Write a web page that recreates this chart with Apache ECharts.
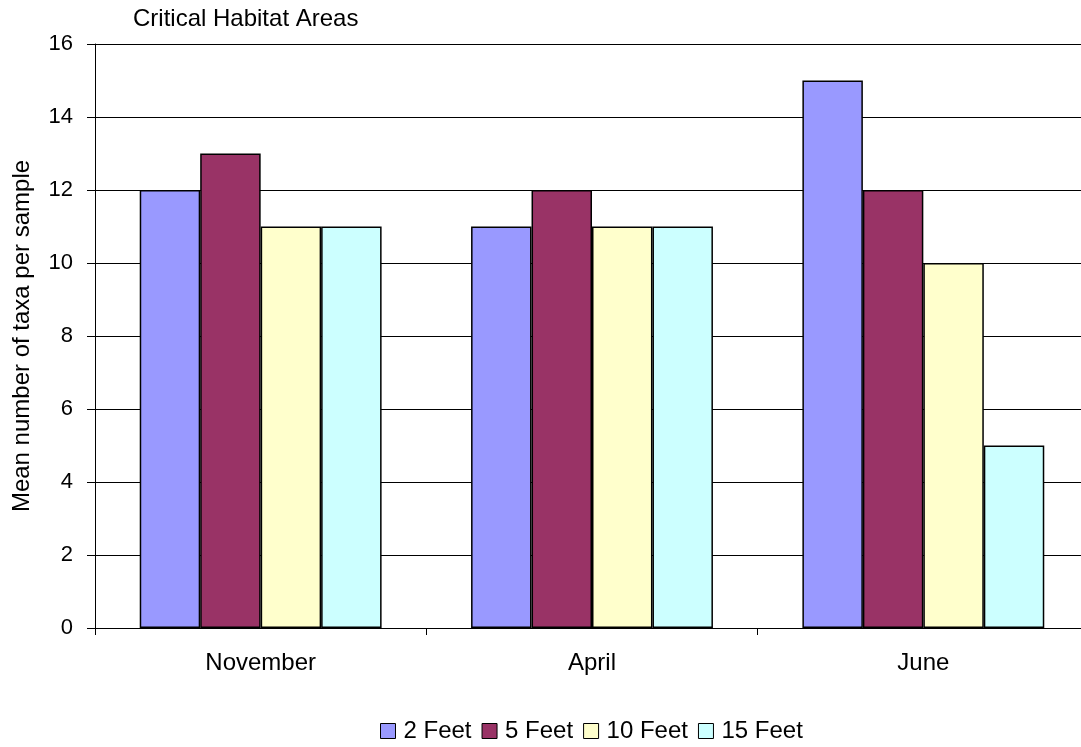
<!DOCTYPE html>
<html>
<head>
<meta charset="utf-8">
<script src="https://cdn.jsdelivr.net/npm/echarts@6/dist/echarts.min.js"></script>
<style>
  html, body { margin: 0; padding: 0; background: #fff; overflow: hidden; }
  /* 原图右侧被裁切，画布比窗口略宽 */
  #chart { width: 1089px; height: 747px; }
</style>
</head>
<body>
<div id="chart"></div>
<script>
// 数据
var months = ['November', 'April', 'June'];
var feet2 = [12, 11, 15];
var feet5 = [13, 12, 12];
var feet10 = [11, 11, 10];
var feet15 = [11, 11, 5];
var yTicks = [0, 2, 4, 6, 8, 10, 12, 14, 16];

var chart = echarts.init(document.getElementById('chart'));
var font = 'Liberation Sans, Arial, sans-serif';

function bar(name, data, color) {
    return {
        name: name,
        type: 'bar',
        data: data,
        barGap: '0%',
        barCategoryGap: '27%',
        itemStyle: { color: color, borderColor: '#000', borderWidth: 1.5 }
    };
}

var option = {
    animation: false,
    title: {
        text: 'Critical Habitat Areas',
        left: 128, top: 2,
        textStyle: { fontFamily: font, fontSize: 24, fontWeight: 'normal', color: '#000' }
    },
    legend: {
        top: 714,
        left: 375,
        itemWidth: 15, itemHeight: 15, itemGap: 10,
        icon: 'rect',
        itemStyle: { borderColor: '#000', borderWidth: 1 },
        textStyle: { fontFamily: font, fontSize: 24, color: '#000', padding: [0, 0, 0, 3] },
        data: ['2 Feet', '5 Feet', '10 Feet', '15 Feet']
    },
    grid: { left: 95, right: 0, top: 44, bottom: 119, containLabel: false },
    xAxis: {
        type: 'category',
        data: months,
        axisLine: { lineStyle: { color: '#000', width: 1 } },
        axisTick: { show: true, length: 7, lineStyle: { color: '#000' } },
        axisLabel: { fontFamily: font, fontSize: 24, color: '#000', margin: 23 }
    },
    yAxis: {
        type: 'value',
        min: yTicks[0], max: yTicks[yTicks.length - 1], interval: 2,
        name: 'Mean number of taxa per sample',
        nameLocation: 'middle',
        nameGap: 61,
        nameTextStyle: { fontFamily: font, fontSize: 24, color: '#000' },
        axisLine: { show: true, lineStyle: { color: '#000', width: 1 } },
        axisTick: { show: true, length: 8, lineStyle: { color: '#000' } },
        axisLabel: { fontFamily: font, fontSize: 22, color: '#000', margin: 22 },
        splitLine: { lineStyle: { color: '#000', width: 1 } }
    },
    series: [
        bar('2 Feet', feet2, '#9999FF'),
        bar('5 Feet', feet5, '#993366'),
        bar('10 Feet', feet10, '#FFFFCC'),
        bar('15 Feet', feet15, '#CCFFFF')
    ]
};

chart.setOption(option);
</script>
</body>
</html>
